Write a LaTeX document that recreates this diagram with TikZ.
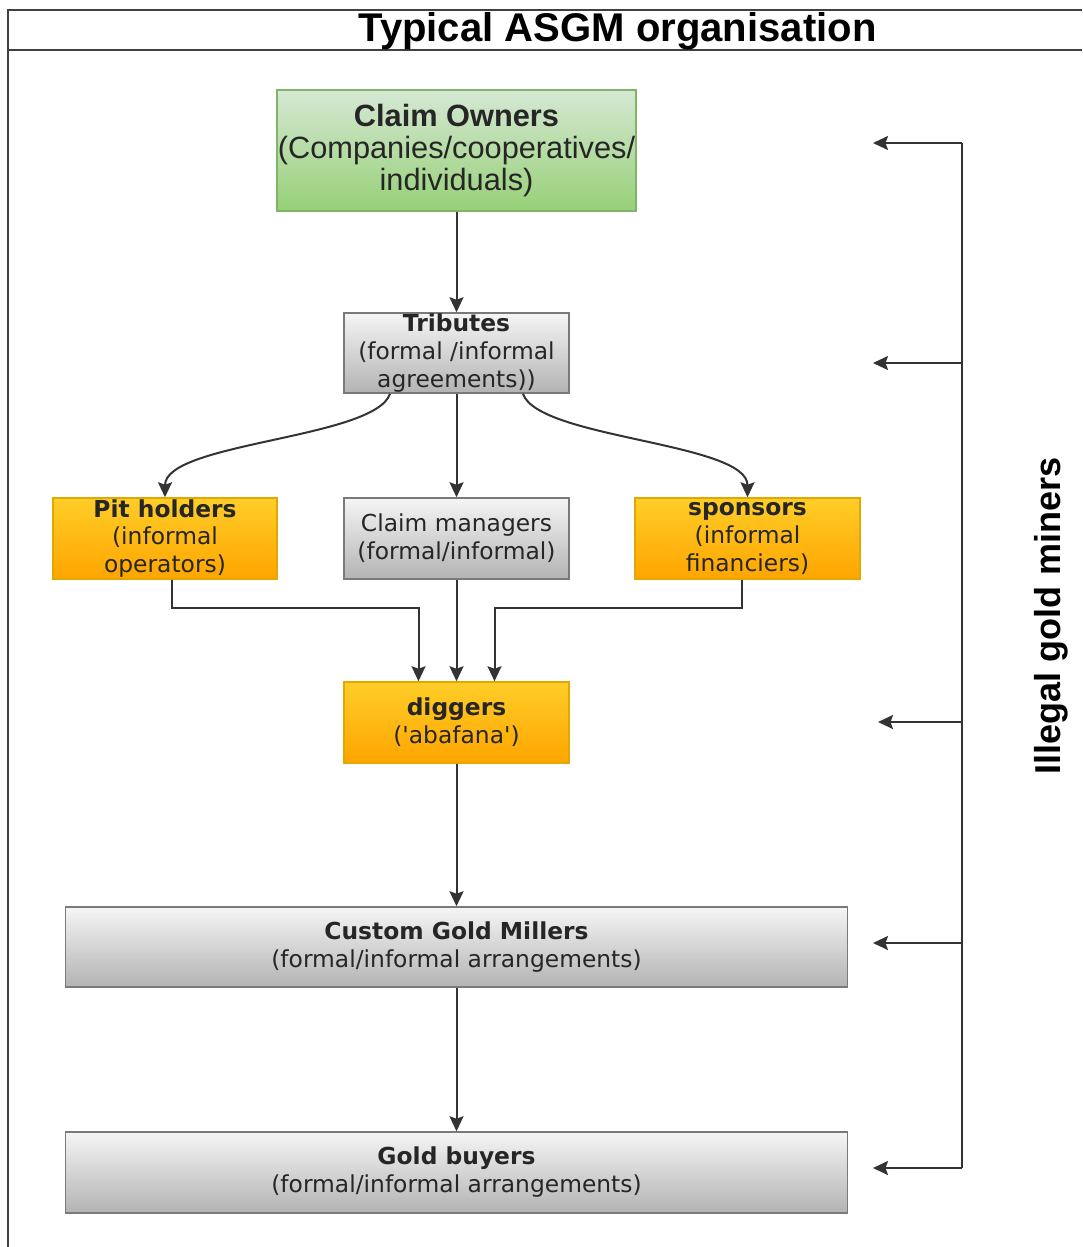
\documentclass[tikz,border=0pt]{standalone}
\usepackage{fontspec}
\setmainfont{DejaVu Sans}
\newfontfamily\arialfont{Liberation Sans}
\usetikzlibrary{arrows.meta}

\definecolor{greytop}{HTML}{F5F5F5}
\definecolor{greybot}{HTML}{B3B3B3}
\definecolor{greyline}{HTML}{7A7A7A}
\definecolor{orangetop}{HTML}{FFCD28}
\definecolor{orangebot}{HTML}{FFA500}
\definecolor{orangeline}{HTML}{E0A800}
\definecolor{greentop}{HTML}{D5E8D4}
\definecolor{greenbot}{HTML}{97D077}
\definecolor{greenline}{HTML}{82B366}

\begin{document}
\begin{tikzpicture}[x=0.2mm, y=-0.2mm,
  box/.style={draw, line width=0.3mm, inner sep=0pt, align=center,
    text=black!85, font=\fontsize{13.3}{15.9}\selectfont},
  greybox/.style={box, draw=greyline, top color=greytop, bottom color=greybot},
  orangebox/.style={box, draw=orangeline, top color=orangetop, bottom color=orangebot},
  greenbox/.style={box, draw=greenline, top color=greentop, bottom color=greenbot},
  arr/.style={-{Stealth[length=3mm, width=2.8mm, inset=0.5mm]}, line width=0.4mm, draw=black!80}]
  \useasboundingbox (0,0) rectangle (1082,1247);
  % frame and title bar
  \draw[line width=0.55mm, black!75] (8,1247) -- (8,10) -- (1082,10);
  \draw[line width=0.55mm, black!75] (8,50) -- (1082,50);
  \node[font=\arialfont\bfseries\fontsize{22.8}{24}\selectfont] (title) at (617.5,31) {Typical ASGM organisation};

  % boxes
  \node[greenbox, minimum width=71.8mm, minimum height=24.2mm,
    font=\arialfont\fontsize{17.5}{18.4}\selectfont] (owners) at (456.5,150.5)
    {\textbf{Claim Owners}\\(Companies/cooperatives/\\individuals)};
  \node[greybox, minimum width=45mm, minimum height=16mm] (trib) at (456.5,353)
    {\textbf{Tributes}\\(formal /informal\\agreements))};
  \node[orangebox, minimum width=44.8mm, minimum height=16.2mm] (pit) at (165,538.5)
    {\textbf{Pit holders}\\(informal\\operators)};
  \node[greybox, minimum width=45mm, minimum height=16.2mm] (mgr) at (456.5,538.5)
    {Claim managers\\(formal/informal)};
  \node[orangebox, minimum width=45mm, minimum height=16.2mm] (spons) at (747.5,538.5)
    {\textbf{sponsors}\\(informal\\financiers)};
  \node[orangebox, minimum width=45mm, minimum height=16.2mm] (dig) at (456.5,722.5)
    {\textbf{diggers}\\(\textquotesingle abafana\textquotesingle)};
  \node[greybox, minimum width=156.4mm, minimum height=16mm] (mill) at (456.5,947)
    {\textbf{Custom Gold Millers}\\(formal/informal arrangements)};
  \node[greybox, minimum width=156.4mm, minimum height=16.2mm] (buy) at (456.5,1172.5)
    {\textbf{Gold buyers}\\(formal/informal arrangements)};

  % flow
  \draw[arr] (owners) -- (trib);
  \draw[arr] ([xshift=-13.3mm]trib.south) .. controls +(-15,45) and +(0,-55) .. (pit.north);
  \draw[arr] (trib) -- (mgr);
  \draw[arr] ([xshift=13.3mm]trib.south) .. controls +(15,45) and +(0,-55) .. (spons.north);
  \draw[arr] ([xshift=1.4mm]pit.south) -- ++(0,28) -| ([xshift=-7.6mm]dig.north);
  \draw[arr] (mgr) -- (dig);
  \draw[arr] ([xshift=-1.1mm]spons.south) -- ++(0,28) -| ([xshift=7.6mm]dig.north);
  \draw[arr] (dig) -- (mill);
  \draw[arr] (mill) -- (buy);

  % side bracket
  \foreach \y/\tx [count=\i] in {143/873, 363/873, 722/878, 943/873, 1168/873} {
    \coordinate (src\i) at (962,\y);
    \coordinate (tip\i) at (\tx,\y);
    \draw[arr] (src\i) -- (tip\i);
  }
  \draw[line width=0.4mm, black!80] (src1) -- (src5);
  \node[rotate=90, font=\arialfont\bfseries\fontsize{20.5}{24}\selectfont] (side) at (1051,616)
    {Illegal gold miners};
\end{tikzpicture}
\end{document}
